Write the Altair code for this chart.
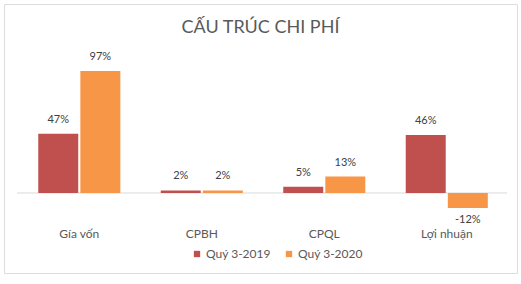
import altair as alt
import pandas as pd

categories = ["Gía vốn", "CPBH", "CPQL", "Lợi nhuận"]
series_names = ["Quý 3-2019", "Quý 3-2020"]
values_2019 = [47, 2, 5, 46]
values_2020 = [97, 2, 13, -12]
colors = ["#C0504D", "#F79646"]

rows = []
for c, v in zip(categories, values_2019):
    rows.append({"cat": c, "series": series_names[0], "value": v})
for c, v in zip(categories, values_2020):
    rows.append({"cat": c, "series": series_names[1], "value": v})
df = pd.DataFrame(rows)

FONT = "Lato"

x_enc = alt.X(
    "cat:N",
    sort=categories,
    scale=alt.Scale(paddingInner=0.33, paddingOuter=0.259, align=0.54),
    axis=alt.Axis(
        title=None, orient="bottom", domain=False, ticks=False, labelPadding=0,
        offset=-45, labelFontSize=12, labelColor="#595959", labelFont=FONT,
        labelAngle=0,
    ),
)
y_scale = alt.Scale(domain=[-63.6, 150.2], nice=False, zero=False)
xoff = alt.XOffset("series:N", sort=series_names, scale=alt.Scale(paddingInner=0.05))

base = alt.Chart(df)

zero_rule = alt.Chart(pd.DataFrame({"z": [0]})).mark_rule(color="#D9D9D9", strokeWidth=1).encode(
    y=alt.Y("z:Q", scale=y_scale, axis=None),
    x=alt.value(13),
    x2=alt.value(503),
)

bars = base.mark_bar().encode(
    x=x_enc,
    xOffset=xoff,
    y=alt.Y("value:Q", scale=y_scale, axis=None),
    color=alt.Color(
        "series:N",
        scale=alt.Scale(domain=series_names, range=colors),
        legend=alt.Legend(
            title=None, orient="none", legendX=187, legendY=244,
            direction="horizontal", symbolType="square", symbolSize=40,
            symbolStrokeWidth=0, labelFontSize=12, labelColor="#595959",
            labelFont=FONT, labelOffset=3, columnPadding=12, padding=0,
        ),
    ),
)

pos_labels = base.transform_filter("datum.value >= 0").transform_calculate(
    lbl="datum.value + '%'"
).mark_text(dy=-14, baseline="middle", fontSize=11, color="#404040", font=FONT).encode(
    x=alt.X("cat:N", sort=categories),
    xOffset=xoff,
    y=alt.Y("value:Q", scale=y_scale),
    text="lbl:N",
)

neg_labels = base.transform_filter("datum.value < 0").transform_calculate(
    lbl="datum.value + '%'"
).mark_text(dy=12, baseline="middle", fontSize=11, color="#404040", font=FONT).encode(
    x=alt.X("cat:N", sort=categories),
    xOffset=xoff,
    y=alt.Y("value:Q", scale=y_scale),
    text="lbl:N",
)

chart = alt.layer(zero_rule, bars, pos_labels, neg_labels).properties(
    width=513,
    height=269,
    autosize=alt.AutoSizeParams(type="none"),
    padding={"left": 4, "top": 4, "right": 4, "bottom": 11},
    title=alt.TitleParams(
        "CẤU TRÚC CHI PHÍ", fontSize=18, font=FONT, fontWeight="normal",
        color="#595959", anchor="middle", offset=-33,
    ),
).configure_view(
    fill="#E6E0EC", stroke="#F2B6B9", strokeWidth=1
).configure(background="white")

chart.save("out.html", embed_options={"renderer": "svg", "actions": False})
